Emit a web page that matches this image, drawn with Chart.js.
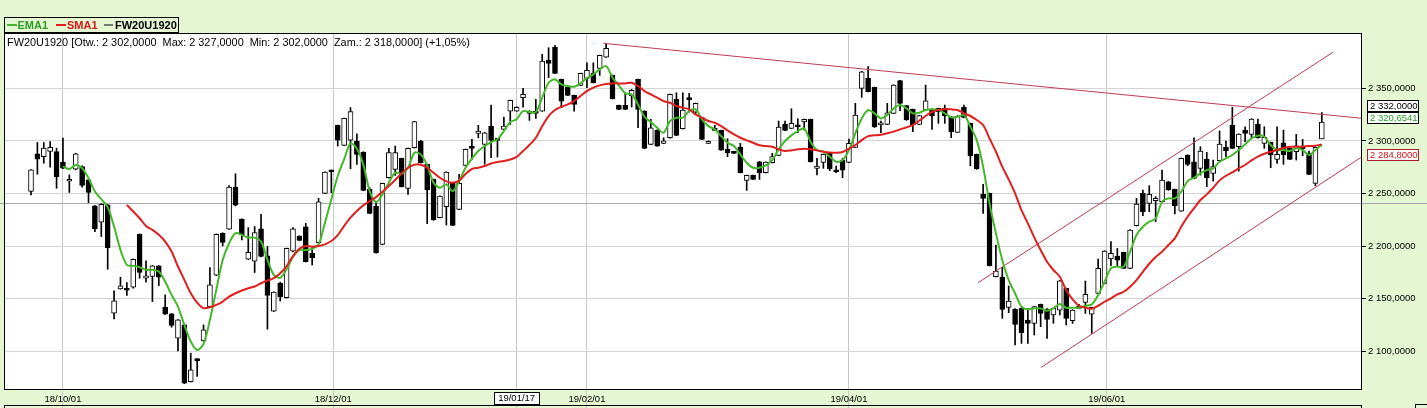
<!DOCTYPE html>
<html><head><meta charset="utf-8">
<script src="https://cdn.jsdelivr.net/npm/chart.js@4.4.1/dist/chart.umd.min.js"></script>
<style>html,body{margin:0;padding:0;background:#e4f6d2;overflow:hidden;}canvas{display:block;}</style>
</head><body>
<canvas id="c" width="1427" height="408"></canvas>
<script>
// ---- data ----
const instrument = 'FW20U1920';
const opens = [
2251.9,2287.7,2285.1,2289.9,2289.9,2279.8,2261.7,2273.1,2275.6,2263.0,
2238.2,2222.7,2239.2,2136.2,2159.3,2159.3,2161.0,2211.3,2169.5,2171.1,
2181.2,2141.9,2135.6,2112.4,2125.1,2071.2,2092.5,2109.9,2142.5,2172.3,
2212.3,2216.1,2256.0,2225.6,2187.5,2185.6,2216.4,2190.7,2138.1,2164.6,
2150.9,2195.3,2209.6,2218.4,2193.1,2203.2,2250.1,2272.0,2314.8,2295.8,
2300.8,2299.9,2289.4,2253.9,2238.1,2201.6,2265.0,2272.9,2283.4,2254.9,
2293.5,2299.9,2277.7,2263.4,2227.0,2237.5,2259.6,2234.9,2276.7,2294.2,
2307.2,2296.7,2314.1,2301.5,2311.0,2328.4,2328.4,2341.1,2328.4,2327.4,
2328.4,2376.9,2389.2,2358.5,2351.5,2343.3,2352.8,2359.4,2364.2,2369.0,
2379.7,2362.3,2333.8,2333.8,2342.7,2358.5,2328.4,2296.7,2310.3,2297.7,
2303.0,2339.5,2311.6,2340.1,2327.4,2322.1,2297.7,2312.2,2310.0,2292.0,
2288.8,2294.2,2262.5,2267.2,2280.2,2269.8,2279.3,2286.2,2315.7,2311.9,
2314.1,2318.0,2320.5,2273.9,2279.6,2288.2,2272.3,2281.8,2279.6,2293.9,
2350.0,2359.5,2350.9,2315.1,2315.7,2326.2,2357.3,2333.5,2330.0,2315.7,
2329.4,2330.3,2330.9,2330.9,2323.0,2308.1,2331.9,2316.7,2287.2,2249.2,
2250.1,2170.9,2170.3,2141.8,2140.2,2140.8,2129.7,2126.6,2144.6,2140.2,
2134.5,2139.2,2159.8,2129.1,2142.4,2146.5,2135.4,2155.0,2164.6,2187.7,
2190.5,2194.0,2178.8,2219.4,2250.1,2240.6,2243.1,2242.2,2261.2,2253.9,
2233.3,2286.6,2280.2,2273.9,2282.8,2269.1,2281.2,2293.9,2315.1,2294.5,
2310.3,2306.2,2316.0,2297.6,2298.6,2282.4,2298.3,2292.9,2289.7,2293.9,
2288.1,2259.6,2302.0];
const highs = [
2272.8,2298.5,2298.5,2299.4,2293.1,2302.6,2267.7,2288.3,2276.3,2263.6,
2238.5,2240.2,2239.5,2157.4,2170.4,2165.4,2187.8,2211.6,2186.0,2181.5,
2181.5,2153.6,2136.0,2130.2,2125.4,2098.2,2092.8,2125.1,2179.6,2211.6,
2212.6,2257.6,2268.7,2226.0,2217.6,2218.6,2230.3,2199.6,2156.5,2165.8,
2198.1,2217.5,2209.9,2221.6,2198.5,2245.4,2270.7,2272.3,2315.1,2321.7,
2331.6,2306.8,2289.7,2255.5,2242.2,2259.9,2292.9,2295.1,2283.7,2293.2,
2318.6,2300.5,2278.0,2263.7,2247.9,2270.7,2259.9,2268.2,2292.3,2301.5,
2314.8,2308.1,2334.1,2301.8,2322.7,2338.8,2332.5,2350.0,2328.7,2339.5,
2382.3,2388.6,2390.8,2358.8,2351.8,2343.6,2364.5,2374.3,2374.3,2381.6,
2392.4,2362.6,2334.1,2345.8,2349.0,2358.8,2328.7,2320.5,2310.6,2303.0,
2344.5,2345.8,2345.8,2345.2,2336.0,2322.4,2300.0,2314.8,2310.3,2302.1,
2289.1,2297.7,2267.5,2267.5,2280.5,2280.2,2288.2,2318.9,2318.9,2330.6,
2321.1,2320.8,2320.8,2283.4,2287.5,2288.5,2276.1,2283.4,2301.8,2335.7,
2366.1,2370.6,2351.2,2318.9,2335.7,2353.4,2357.6,2333.8,2330.3,2324.3,
2353.1,2330.6,2331.2,2334.1,2323.3,2324.0,2334.1,2317.0,2287.5,2258.7,
2250.4,2201.0,2179.8,2162.1,2140.5,2141.1,2140.8,2142.7,2144.9,2140.5,
2141.1,2167.4,2160.1,2139.5,2144.6,2166.8,2142.0,2187.7,2195.6,2204.2,
2197.8,2194.3,2215.6,2245.4,2253.3,2257.4,2247.0,2272.3,2261.5,2254.2,
2283.7,2286.9,2303.0,2294.5,2289.1,2281.8,2309.4,2299.9,2331.9,2306.8,
2313.5,2321.1,2320.8,2313.5,2298.9,2313.5,2310.3,2293.2,2306.2,2301.4,
2290.4,2294.2,2327.0];
const lows = [
2248.7,2268.3,2278.8,2275.0,2255.0,2273.5,2251.0,2272.5,2256.0,2241.4,
2213.8,2209.1,2178.0,2130.8,2159.0,2153.0,2160.0,2169.5,2165.7,2147.3,
2162.5,2135.0,2122.9,2100.4,2069.2,2070.8,2076.0,2109.5,2142.2,2172.0,
2200.2,2215.8,2238.2,2205.9,2187.2,2174.9,2189.8,2121.0,2137.8,2147.8,
2150.6,2194.4,2205.1,2184.9,2182.0,2202.9,2249.8,2250.8,2295.1,2295.5,
2273.6,2277.7,2252.7,2230.8,2193.4,2201.3,2264.7,2267.2,2256.2,2249.2,
2293.2,2279.0,2221.3,2224.5,2226.7,2220.0,2219.4,2234.6,2276.4,2282.4,
2303.0,2277.7,2284.0,2284.7,2310.7,2315.7,2328.1,2332.2,2319.5,2321.4,
2328.1,2360.1,2363.9,2331.6,2343.0,2328.4,2352.5,2350.6,2355.0,2362.3,
2379.4,2339.8,2329.7,2329.7,2332.2,2312.5,2292.6,2296.4,2294.8,2297.4,
2302.7,2305.0,2311.3,2327.4,2325.2,2301.2,2297.4,2309.7,2291.0,2285.0,
2287.9,2269.5,2253.0,2263.1,2263.4,2269.5,2279.0,2285.9,2309.7,2311.6,
2307.8,2310.4,2279.9,2267.6,2273.9,2271.7,2269.8,2265.0,2279.3,2293.6,
2341.4,2346.5,2312.6,2307.8,2315.4,2325.9,2328.7,2319.6,2308.8,2315.4,
2329.1,2311.0,2316.7,2316.7,2303.1,2307.8,2322.1,2276.4,2273.0,2231.1,
2181.1,2170.6,2131.3,2136.7,2106.0,2107.5,2107.5,2115.5,2123.4,2112.3,
2126.6,2134.5,2125.0,2126.5,2140.5,2136.0,2117.0,2154.7,2164.3,2181.4,
2181.4,2178.5,2178.5,2219.1,2228.9,2232.7,2223.2,2241.9,2253.0,2230.5,
2233.0,2276.4,2264.1,2267.5,2256.5,2261.8,2280.9,2285.0,2292.6,2271.3,
2299.2,2302.4,2302.7,2292.9,2274.5,2278.6,2277.7,2282.1,2281.8,2285.9,
2267.9,2257.4,2302.0];
const closes = [
2272.5,2282.6,2293.1,2294.0,2266.1,2274.0,2263.6,2287.7,2257.6,2251.0,
2216.4,2239.8,2198.6,2147.9,2162.2,2158.0,2187.5,2174.9,2171.7,2181.2,
2170.4,2135.3,2124.5,2129.9,2069.7,2082.3,2091.2,2120.4,2163.1,2211.3,
2203.4,2256.0,2238.9,2210.7,2194.2,2212.9,2190.1,2153.0,2156.2,2151.9,
2197.8,2216.5,2205.4,2185.2,2189.0,2242.2,2270.4,2270.7,2300.8,2321.4,
2327.8,2287.2,2253.0,2231.1,2193.7,2259.6,2288.8,2288.8,2256.5,2292.9,
2318.3,2279.3,2253.3,2224.8,2247.6,2270.4,2219.7,2259.6,2292.0,2292.9,
2309.4,2307.8,2300.5,2300.5,2314.1,2338.5,2332.0,2344.3,2326.2,2326.2,
2375.9,2373.7,2364.2,2337.9,2343.3,2334.7,2364.2,2367.1,2355.3,2381.3,
2388.0,2340.1,2330.0,2330.0,2348.1,2330.0,2292.9,2312.5,2295.1,2300.2,
2344.2,2305.3,2329.4,2339.2,2335.7,2301.5,2299.6,2310.0,2291.3,2288.8,
2288.2,2269.8,2267.2,2263.4,2269.8,2279.9,2285.0,2313.2,2310.0,2316.7,
2313.5,2320.5,2280.2,2276.1,2287.2,2273.3,2270.7,2272.3,2297.7,2324.6,
2365.8,2346.8,2313.5,2317.3,2326.8,2353.1,2335.7,2319.9,2315.1,2324.0,
2338.2,2323.7,2327.8,2323.7,2308.8,2323.7,2322.4,2285.9,2273.3,2245.4,
2181.4,2176.3,2139.9,2147.8,2125.6,2117.7,2126.6,2142.4,2136.1,2130.4,
2140.8,2167.1,2131.3,2139.2,2140.8,2154.1,2141.7,2178.8,2195.3,2193.1,
2186.7,2178.8,2215.3,2240.0,2232.7,2249.2,2245.4,2262.8,2253.3,2238.4,
2283.4,2277.7,2264.4,2290.4,2265.0,2275.5,2297.0,2290.7,2292.9,2306.5,
2307.2,2320.8,2303.0,2303.4,2286.6,2287.2,2286.6,2282.4,2295.4,2292.3,
2268.2,2293.9,2318.0];

const emaStart = 5;
const ema = [
2275.6,2273.4,2277.2,2274.0,2264.5,2251.9,2244.6,2237.0,2218.6,2196.4,
2182.2,2181.2,2179.9,2177.4,2177.4,2175.8,2166.3,2153.6,2142.5,2125.1,
2109.3,2101.3,2107.0,2129.9,2158.4,2186.9,2202.7,2212.3,2210.7,2208.1,
2208.1,2204.3,2186.9,2172.6,2169.9,2177.9,2189.9,2196.2,2196.2,2197.5,
2201.6,2222.2,2244.4,2266.6,2282.4,2297.7,2292.6,2277.7,2252.3,2241.9,
2249.2,2260.3,2269.8,2268.8,2274.5,2288.8,2287.2,2276.7,2260.3,2255.5,
2258.7,2252.3,2261.9,2274.5,2283.1,2290.4,2295.1,2298.9,2301.5,2309.4,
2317.9,2320.7,2328.4,2327.4,2327.4,2341.1,2355.3,2358.5,2353.7,2352.2,
2351.5,2354.7,2359.8,2363.3,2368.0,2371.2,2360.1,2352.8,2345.2,2344.2,
2334.7,2323.0,2317.9,2312.5,2307.8,2318.9,2322.1,2322.1,2328.4,2330.0,
2320.5,2314.1,2311.0,2304.6,2298.3,2295.1,2287.2,2279.3,2274.5,2274.5,
2276.7,2281.8,2292.0,2299.9,2305.3,2309.4,2311.9,2299.3,2291.3,2289.8,
2285.0,2280.2,2281.8,2291.3,2307.2,2321.4,2329.4,2326.2,2321.4,2324.6,
2330.9,2334.1,2330.9,2326.2,2326.8,2329.4,2330.0,2329.4,2326.2,2322.4,
2323.0,2324.6,2313.5,2300.8,2275.5,2240.6,2212.1,2186.8,2167.7,2155.1,
2142.4,2139.9,2140.8,2140.8,2138.6,2140.8,2145.0,2141.4,2141.4,2141.4,
2143.3,2144.6,2153.5,2166.1,2178.8,2180.4,2180.4,2194.7,2210.5,2218.4,
2223.2,2226.3,2242.2,2245.4,2245.4,2251.7,2261.8,2265.0,2269.1,2272.3,
2273.9,2280.2,2283.4,2286.6,2291.3,2296.7,2302.4,2304.9,2304.0,2296.1,
2291.3,2291.3,2290.4,2292.9,2291.3,2286.6,2291.3,2296.7];

const smaStart = 15;
const sma = [
2239.2,2232.9,2226.5,2219.2,2215.4,2210.7,2204.3,2194.8,2180.6,2167.9,
2155.2,2146.3,2141.0,2141.9,2144.1,2147.3,2152.0,2155.2,2157.8,2160.0,
2161.6,2164.7,2167.3,2169.5,2174.1,2181.0,2190.5,2197.5,2200.1,2199.4,
2200.1,2201.6,2204.8,2210.5,2219.1,2227.0,2233.3,2238.7,2242.8,2246.6,
2251.7,2257.1,2262.8,2269.1,2274.5,2277.4,2277.4,2274.5,2269.8,2265.0,
2261.5,2260.3,2262.2,2268.5,2273.3,2274.5,2276.1,2278.6,2279.9,2280.9,
2282.4,2284.8,2290.4,2296.1,2303.0,2314.1,2323.6,2329.4,2332.5,2334.7,
2337.9,2342.7,2347.4,2350.6,2352.8,2354.1,2354.7,2354.7,2354.7,2355.3,
2352.2,2347.4,2344.2,2341.1,2337.9,2336.3,2333.2,2331.6,2330.0,2325.2,
2322.1,2318.9,2317.3,2314.1,2310.0,2306.2,2303.0,2300.5,2298.3,2295.8,
2295.1,2294.5,2292.0,2290.4,2291.0,2292.0,2292.6,2292.0,2291.0,2289.8,
2289.1,2288.8,2289.4,2292.6,2296.1,2300.8,2304.6,2305.3,2305.9,2307.2,
2308.8,2311.0,2312.9,2315.1,2319.2,2323.7,2327.5,2329.4,2330.0,2330.0,
2329.4,2326.2,2323.7,2319.9,2315.1,2302.4,2289.8,2275.5,2263.4,2250.1,
2234.3,2221.6,2208.3,2196.3,2185.2,2177.3,2170.9,2158.2,2149.3,2143.3,
2141.4,2140.5,2143.3,2147.1,2150.3,2154.1,2156.6,2161.4,2167.7,2175.6,
2183.2,2189.6,2194.7,2201.0,2207.3,2218.4,2227.9,2235.9,2243.8,2249.2,
2255.5,2262.5,2266.9,2270.1,2273.9,2277.1,2281.5,2285.0,2287.8,2289.7,
2291.3,2293.5,2294.5,2294.5,2294.5,2295.1,2295.4,2296.7];

// trend lines: [candle index, value] end points
const resistanceLine = [[89.56, 2392.8], [208.3, 2321.5]];
const channelUpper = [[148.2, 2165.2], [203.8, 2384.5]];
const channelLower = [[158.06, 2084.6], [208.3, 2285.0]];

const xTickPos = [5, 47.3, 76, 87, 128, 168.35];
const xTickLabels = ['18/10/01', '18/12/01', '19/01/17', '19/02/01', '19/04/01', '19/06/01'];
const crossTick = 2;            // boxed date label (crosshair)
const crossValue = 2240.7;      // horizontal crosshair
const yTicks = [2100, 2150, 2200, 2250, 2300, 2350];
const yMin = 2063.2, yMax = 2402.6;
const xMin = -4.225, xMax = 208.29;
const axisMarkers = [
  {v: 2332.0,    t: '2 332,0000', c: '#000000', b: '#000000'},
  {v: 2320.6541, t: '2 320,6541', c: '#22a022', b: '#000000'},
  {v: 2284.8,    t: '2 284,8000', c: '#d01414', b: '#b01a2a'}
];
const titleText = 'FW20U1920 [Otw.: 2 302,0000  Max: 2 327,0000  Min: 2 302,0000  Zam.: 2 318,0000] (+1,05%)';

// ---- rendering ----
const BG = '#e4f6d2';
const EMA_C = '#44b82a', SMA_C = '#e01e1e', TREND_C = '#bf3c52';
function hasFont(name){
  const c = document.createElement('canvas').getContext('2d');
  const s = '2 350,0000 abcdefWMi';
  c.font = '20px monospace'; const a = c.measureText(s).width;
  c.font = '20px "' + name + '", monospace'; const b = c.measureText(s).width;
  return Math.abs(a - b) > 0.5;
}
const narrow = hasFont('Liberation Sans Narrow');
const axisFont = narrow ? {family: '"Liberation Sans Narrow"', size: 11} : {family: '"Liberation Sans", Arial, sans-serif', size: 9.5};
const axisFontStr = axisFont.size + 'px ' + axisFont.family;
const fmt = v => { const [a, b] = v.toFixed(4).split('.'); return a.replace(/\B(?=(\d{3})+$)/g, ' ') + ',' + b; };

const idx = opens.map((_, i) => i);
const bodies = idx.map(i => ({x: i, y: [opens[i], closes[i]]}));
const wicks = idx.map(i => ({x: i, y: [lows[i], highs[i]]}));
const line = pts => pts.map(p => ({x: p[0], y: p[1]}));

const decor = {
  id: 'decor',
  beforeDraw(chart){
    const {ctx, chartArea: a} = chart;
    ctx.save();
    ctx.fillStyle = BG; ctx.fillRect(0, 0, chart.width, chart.height);
    ctx.fillStyle = '#ffffff'; ctx.fillRect(a.left, a.top, a.right - a.left, a.bottom - a.top);
    ctx.restore();
  },
  beforeDatasetsDraw(chart){
    const {ctx} = chart;
    const y = Math.round(chart.scales.y.getPixelForValue(crossValue)) + 0.5;
    ctx.save(); ctx.strokeStyle = '#a8a8a8'; ctx.lineWidth = 1;
    ctx.beginPath(); ctx.moveTo(0, y); ctx.lineTo(chart.width, y); ctx.stroke(); ctx.restore();
  },
  afterDatasetsDraw(chart){
    const {ctx, chartArea: a} = chart;
    const ys = chart.scales.y, xs = chart.scales.x;
    ctx.save();
    // plot border
    ctx.strokeStyle = '#000'; ctx.lineWidth = 1;
    ctx.strokeRect(Math.round(a.left) + 0.5, Math.round(a.top) + 0.5, Math.round(a.right - a.left) - 1, Math.round(a.bottom - a.top) - 1);
    // title
    ctx.fillStyle = '#000'; ctx.textBaseline = 'middle'; ctx.textAlign = 'left';
    ctx.font = '10.9px "Liberation Sans", Arial, sans-serif';
    ctx.fillText(titleText, 7, 43);
    // legend
    ctx.strokeStyle = '#000'; ctx.strokeRect(4.5, 17.5, 174, 15);
    const items = [
      {x: 7, w: 10, lw: 2, c: EMA_C, tc: '#2a9e22', t: 'EMA1', tx: 17.5},
      {x: 56, w: 10, lw: 2, c: SMA_C, tc: '#d81818', t: 'SMA1', tx: 67},
      {x: 104, w: 9, lw: 1, c: '#000', tc: '#000', t: instrument, tx: 115}
    ];
    ctx.font = 'bold 11px "Liberation Sans", Arial, sans-serif';
    items.forEach(it => {
      ctx.strokeStyle = it.c; ctx.lineWidth = it.lw;
      ctx.beginPath(); ctx.moveTo(it.x, 25); ctx.lineTo(it.x + it.w, 25); ctx.stroke();
      ctx.fillStyle = it.tc; ctx.fillText(it.t, it.tx, 25.5);
    });
    // axis value markers
    ctx.font = axisFontStr; ctx.lineWidth = 1;
    axisMarkers.forEach(m => {
      const y = ys.getPixelForValue(m.v) - 2;
      const top = Math.round(y - 5.5) + 0.5;
      ctx.fillStyle = '#ffffff'; ctx.fillRect(1367.5, top, 51, 11);
      ctx.strokeStyle = m.b; ctx.strokeRect(1367.5, top, 51, 11);
      ctx.fillStyle = m.c; ctx.fillText(m.t, 1370, top + 6);
    });
    // crosshair date label
    const cx = xs.getPixelForValue(xTickPos[crossTick]);
    const w = Math.round(ctx.measureText(xTickLabels[crossTick]).width) + 8;
    const bx = Math.round(cx - w / 2) + 0.5;
    ctx.fillStyle = '#ffffff'; ctx.fillRect(bx, 392.5, w, 12);
    ctx.strokeStyle = '#000'; ctx.strokeRect(bx, 392.5, w, 12);
    ctx.fillStyle = '#000'; ctx.textAlign = 'center'; ctx.fillText(xTickLabels[crossTick], cx, 398.5);
    // lower panel edge
    ctx.strokeStyle = '#000';
    ctx.strokeRect(4.5, 405.5, Math.round(a.right) - 5, 20);
    ctx.strokeRect(1415.5, 404.5, 20, 10);
    ctx.restore();
  }
};

new Chart(document.getElementById('c'), {
  type: 'bar',
  data: {
    datasets: [
      {type: 'line', label: 'SMA1', data: sma.map((v, k) => ({x: smaStart + k, y: v})), borderColor: SMA_C, borderWidth: 2, pointRadius: 0, tension: 0.3, order: 0},
      {type: 'line', label: 'EMA1', data: ema.map((v, k) => ({x: emaStart + k, y: v})), borderColor: EMA_C, borderWidth: 2, pointRadius: 0, tension: 0.3, order: 1},
      {type: 'line', label: 'trend1', data: line(resistanceLine), borderColor: TREND_C, borderWidth: 1, pointRadius: 0, order: 2},
      {type: 'line', label: 'trend2', data: line(channelUpper), borderColor: TREND_C, borderWidth: 1, pointRadius: 0, order: 2},
      {type: 'line', label: 'trend3', data: line(channelLower), borderColor: TREND_C, borderWidth: 1, pointRadius: 0, order: 2},
      {label: instrument, data: bodies, grouped: false, barThickness: 5, minBarLength: 2,
        backgroundColor: c => (closes[c.dataIndex] >= opens[c.dataIndex] ? '#ffffff' : '#000000'),
        borderColor: '#000000', borderWidth: 1, borderSkipped: false, order: 3},
      {label: 'wicks', data: wicks, grouped: false, barThickness: 1, backgroundColor: '#000000', borderWidth: 0, order: 4}
    ]
  },
  options: {
    responsive: false, animation: false, devicePixelRatio: 1, events: [],
    layout: {padding: {left: 4, top: 33, right: 0, bottom: 0}},
    plugins: {legend: {display: false}, tooltip: {enabled: false}, title: {display: false}},
    scales: {
      x: {
        type: 'linear', position: 'bottom', min: xMin, max: xMax, offset: false,
        afterBuildTicks: s => { s.ticks = xTickPos.map(v => ({value: v})); },
        afterFit: s => { s.height = 18; },
        grid: {color: '#c8c8c8', lineWidth: 1, drawTicks: true, tickLength: 18, tickColor: '#c8c8c8', offset: false},
        border: {display: false},
        ticks: {autoSkip: false, maxRotation: 0, minRotation: 0, padding: -14, color: '#000', font: axisFont,
          callback: (v, i) => (i === crossTick ? '' : xTickLabels[i])}
      },
      y: {
        type: 'linear', position: 'right', min: yMin, max: yMax, beginAtZero: false,
        afterBuildTicks: s => { s.ticks = yTicks.map(v => ({value: v})); },
        afterFit: s => { s.width = 65; },
        grid: {color: '#d4d4d4', lineWidth: 1, drawTicks: true, tickLength: 4, tickColor: '#000'},
        border: {display: false},
        ticks: {padding: 2, color: '#000', font: axisFont, callback: v => fmt(v)}
      }
    }
  },
  plugins: [decor]
});
</script>
</body></html>
